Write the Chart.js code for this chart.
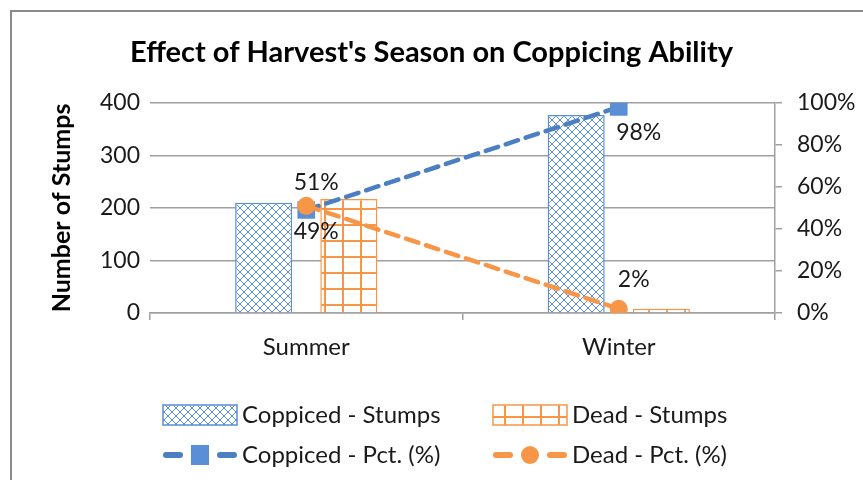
<!DOCTYPE html>
<html>
<head>
<meta charset="utf-8">
<script src="https://cdn.jsdelivr.net/npm/chart.js@4/dist/chart.umd.min.js"></script>
<style>
  html, body { margin: 0; padding: 0; background: #fff; }
  #wrap { width: 863px; height: 480px; position: relative; }
</style>
</head>
<body>
<div id="wrap"><canvas id="myChart" width="863" height="480"></canvas></div>
<script>
const seasons = ["Summer", "Winter"];
const coppicedStumps = [210, 377];
const deadStumps = [217, 8];
const coppicedPct = [49, 98];
const deadPct = [51, 2];
const stumpMax = 400;
const pctMax = 100;

const BLUE = "#5a8fd8";
const BLUE_LINE = "#4b7fc2";
const ORANGE = "#f79646";
const GRID = "#a0a0a0";
const TEXT = "#1a1a1a";
const FONT = "Lato, 'Open Sans', sans-serif";

// small diamond cross-hatch for the coppiced bars
function crossHatch(color) {
  const c = document.createElement("canvas");
  c.width = 8;
  c.height = 8;
  const g = c.getContext("2d");
  g.fillStyle = "#fff";
  g.fillRect(0, 0, 8, 8);
  g.fillStyle = color;
  for (let i = 0; i < 8; i++) {
    g.fillRect(i, i, 1, 1);
    g.fillRect(7 - i, i, 1, 1);
  }
  return g.createPattern(c, "repeat");
}

// large square grid for the dead bars
function squareGrid(color) {
  const c = document.createElement("canvas");
  c.width = 18;
  c.height = 16;
  const g = c.getContext("2d");
  g.fillStyle = "#fff";
  g.fillRect(0, 0, 18, 16);
  g.fillStyle = color;
  g.fillRect(0, 0, 2, 16);
  g.fillRect(0, 0, 18, 2);
  return g.createPattern(c, "repeat");
}

const frame = {
  id: "frame",
  beforeDraw(chart) {
    const ctx = chart.ctx;
    ctx.save();
    ctx.fillStyle = "#fff";
    ctx.fillRect(0, 0, chart.width, chart.height);
    ctx.strokeStyle = "#8a8a8a";
    ctx.lineWidth = 2;
    ctx.beginPath();
    ctx.moveTo(11, chart.height);
    ctx.lineTo(11, 11);
    ctx.lineTo(chart.width, 11);
    ctx.stroke();
    ctx.restore();
  },
};

// percentage labels next to the line points
const pctLabels = {
  id: "pctLabels",
  afterDatasetsDraw(chart, args, opts) {
    const ctx = chart.ctx;
    ctx.save();
    ctx.font = "23px " + FONT;
    ctx.fillStyle = TEXT;
    ctx.textAlign = "center";
    ctx.textBaseline = "middle";
    chart.data.datasets.forEach((ds, i) => {
      const off = opts.offsets[i];
      if (!off) return;
      chart.getDatasetMeta(i).data.forEach((pt, j) => {
        ctx.fillText(ds.data[j] + "%", pt.x + off[j][0], pt.y + off[j][1]);
      });
    });
    ctx.restore();
  },
};

// two-column legend under the plot
const legendGrid = {
  id: "legendGrid",
  afterDraw(chart, args, opts) {
    const ctx = chart.ctx;
    ctx.save();
    ctx.font = "24px " + FONT;
    ctx.textBaseline = "middle";
    ctx.fillStyle = TEXT;
    opts.order.forEach((dsIndex, k) => {
      const ds = chart.data.datasets[dsIndex];
      const x = opts.cols[k % 2];
      const y = opts.rows[Math.floor(k / 2)];
      const w = 74;
      if (ds.type === "bar" || !ds.type) {
        ctx.fillStyle = ds.backgroundColor;
        ctx.fillRect(x, y - 10, w, 20);
        ctx.strokeStyle = ds.borderColor;
        ctx.lineWidth = 1.5;
        ctx.strokeRect(x, y - 10, w, 20);
      } else {
        ctx.strokeStyle = ds.borderColor;
        ctx.lineWidth = 6;
        ctx.lineCap = "round";
        ctx.beginPath();
        ctx.moveTo(x + 3, y);
        ctx.lineTo(x + 17, y);
        ctx.moveTo(x + w - 17, y);
        ctx.lineTo(x + w - 3, y);
        ctx.stroke();
        ctx.fillStyle = ds.pointBackgroundColor;
        ctx.beginPath();
        if (ds.pointStyle === "rect") {
          ctx.rect(x + w / 2 - 9, y - 10, 18, 20);
        } else {
          ctx.arc(x + w / 2, y, 9, 0, Math.PI * 2);
        }
        ctx.fill();
      }
      ctx.fillStyle = TEXT;
      ctx.fillText(ds.label, x + w + 5, y);
    });
    ctx.restore();
  },
};

const ctx = document.getElementById("myChart");

const myChart = new Chart(ctx, {
  data: {
    labels: seasons,
    datasets: [
      {
        type: "line",
        label: "Coppiced - Pct. (%)",
        data: coppicedPct,
        yAxisID: "y1",
        borderColor: BLUE_LINE,
        borderWidth: 4.5,
        borderDash: [13, 8],
        borderCapStyle: "round",
        pointStyle: "rect",
        pointRadius: 12.5,
        pointBackgroundColor: BLUE,
        pointBorderWidth: 0,
        order: 1,
      },
      {
        type: "line",
        label: "Dead - Pct. (%)",
        data: deadPct,
        yAxisID: "y1",
        borderColor: ORANGE,
        borderWidth: 4.5,
        borderDash: [13, 8],
        borderCapStyle: "round",
        pointStyle: "circle",
        pointRadius: 9,
        pointBackgroundColor: ORANGE,
        pointBorderWidth: 0,
        order: 0,
      },
      {
        type: "bar",
        label: "Coppiced - Stumps",
        data: coppicedStumps,
        yAxisID: "y",
        backgroundColor: crossHatch(BLUE),
        borderColor: BLUE,
        borderWidth: 1.5,
        barPercentage: 0.67,
        categoryPercentage: 0.545,
        order: 2,
      },
      {
        type: "bar",
        label: "Dead - Stumps",
        data: deadStumps,
        yAxisID: "y",
        backgroundColor: squareGrid(ORANGE),
        borderColor: ORANGE,
        borderWidth: 1.5,
        barPercentage: 0.67,
        categoryPercentage: 0.545,
        order: 3,
      },
    ],
  },
  options: {
    responsive: false,
    animation: false,
    events: [],
    layout: { padding: 0 },
    plugins: {
      legend: { display: false },
      tooltip: { enabled: false },
      title: {
        display: true,
        text: "Effect of Harvest's Season on Coppicing Ability",
        color: "#000",
        font: { family: FONT, size: 29, weight: "bold", lineHeight: 1.2 },
        padding: { top: 35, bottom: 33 },
      },
      pctLabels: {
        offsets: [
          [[10, 22], [20, 26]],
          [[10, -23], [15, -29]],
        ],
      },
      legendGrid: {
        order: [2, 3, 0, 1],
        cols: [163, 493],
        rows: [415, 455],
      },
    },
    scales: {
      x: {
        offset: true,
        grid: {
          offset: true,
          drawOnChartArea: false,
          color: GRID,
          lineWidth: 1.5,
          tickLength: 7,
        },
        border: { color: GRID, width: 1.5 },
        ticks: { color: TEXT, font: { family: FONT, size: 24 }, padding: 13 },
        afterFit(s) { s.height = 167; },
      },
      y: {
        position: "left",
        min: 0,
        max: stumpMax,
        ticks: { stepSize: 100, color: TEXT, font: { family: FONT, size: 23 }, padding: 10 },
        grid: { color: GRID, lineWidth: 1.5, drawTicks: false },
        border: { display: false },
        title: {
          display: true,
          text: "Number of Stumps",
          color: "#000",
          font: { family: FONT, size: 25, weight: "bold" },
          padding: { top: 47, bottom: 0 },
        },
        afterFit(s) { s.width = 150; },
      },
      y1: {
        position: "right",
        min: 0,
        max: pctMax,
        ticks: {
          stepSize: 20,
          color: TEXT,
          font: { family: FONT, size: 23 },
          padding: 15,
          callback: (v) => v + "%",
        },
        grid: { drawOnChartArea: false, color: GRID, lineWidth: 1.5, tickLength: 7 },
        border: { color: GRID, width: 1.5 },
        afterFit(s) { s.width = 88; },
      },
    },
  },
  plugins: [frame, pctLabels, legendGrid],
});
</script>
</body>
</html>
